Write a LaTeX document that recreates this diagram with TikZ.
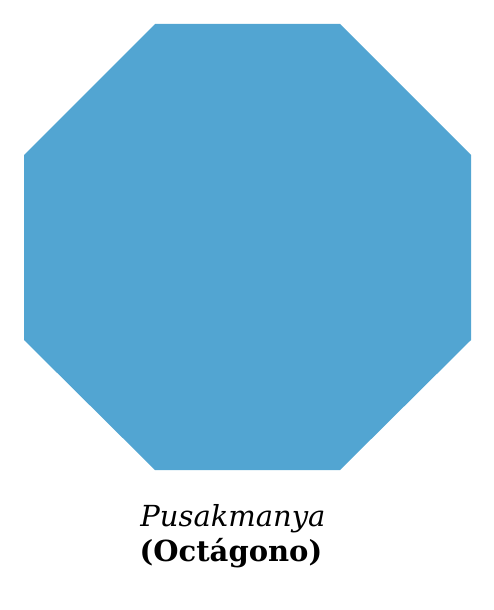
\documentclass[tikz,border=0pt]{standalone}
\usepackage{fontspec}
\setmainfont{DejaVu Serif}
\definecolor{octablue}{HTML}{52A5D2}
\begin{document}
\begin{tikzpicture}[x=1pt,y=-1pt]
            \useasboundingbox (0,0) rectangle (494,610);
            \fill[octablue] (155,24) -- (340,24) -- (471,155) -- (471,340) -- (340,470) -- (155,470) -- (24,340) -- (24,155) -- cycle;
            \node[anchor=base] (nama) at (233,526) {\fontsize{29}{32}\selectfont\itshape Pusakmanya};
            \node[anchor=base] (jenis) at (231,561) {\fontsize{29}{32}\selectfont\bfseries (Octágono)};
        \end{tikzpicture}
\end{document}
